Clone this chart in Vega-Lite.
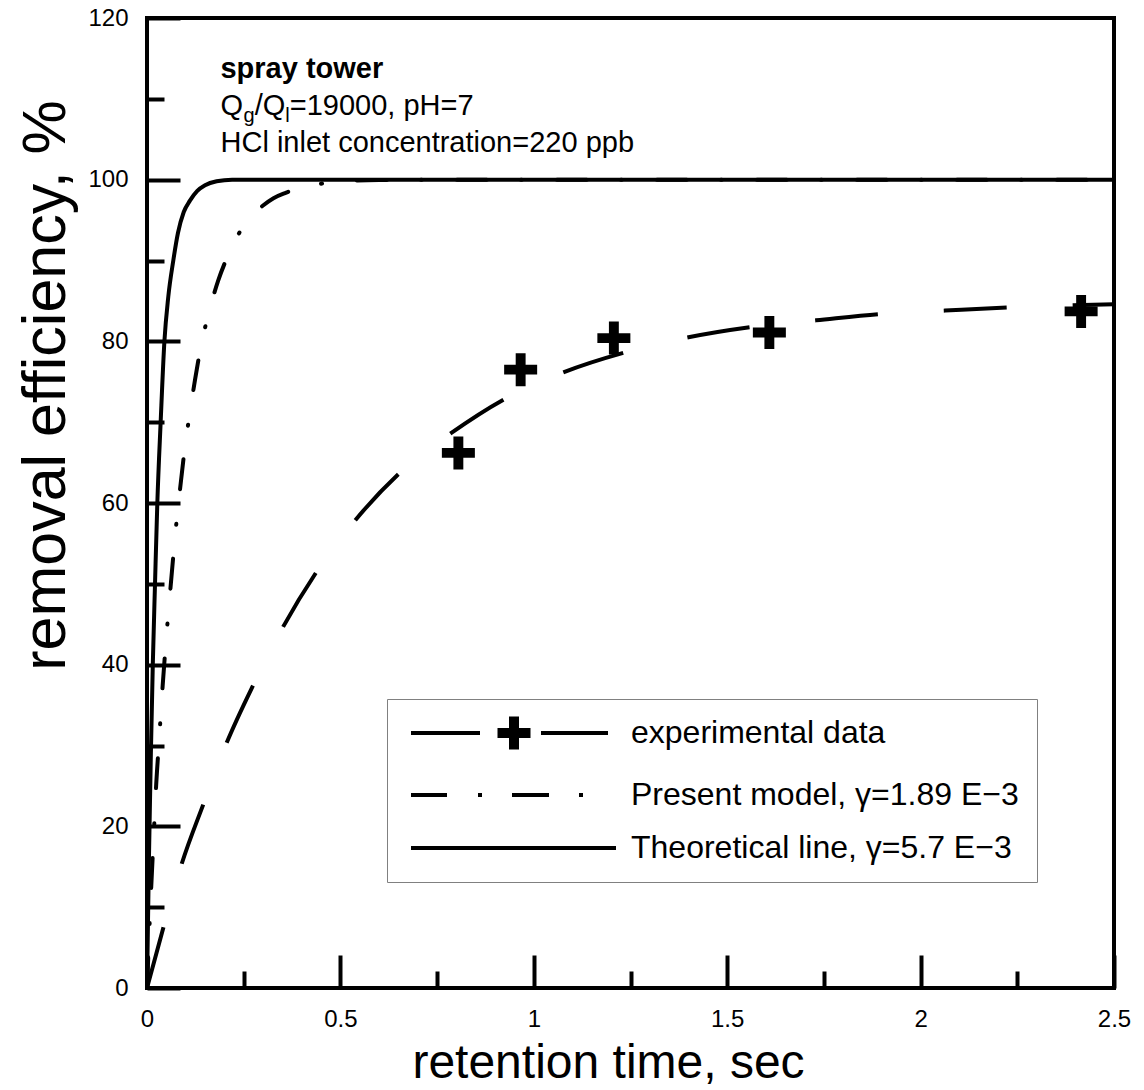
{
  "$schema": "https://vega.github.io/schema/vega-lite/v6.json",
  "width": 967,
  "height": 970,
  "autosize": {"type": "none"},
  "padding": {"left": 147, "top": 18, "right": 30, "bottom": 102},
  "background": "white",
  "config": {
    "font": "Liberation Sans",
    "view": {"stroke": "black", "strokeWidth": 4},
    "axis": {"grid": false, "domain": false, "tickColor": "black", "tickWidth": 4, "labelColor": "black", "titleColor": "black", "labelFont": "Liberation Sans", "titleFont": "Liberation Sans", "titleFontWeight": "normal"}
  },
  "datasets": {
    "experimental_fit": [
      {"t": 0, "eff": 0}, {"t": 0.043, "eff": 7.6}, {"t": 0.09, "eff": 15.4}, {"t": 0.147, "eff": 22.9},
      {"t": 0.204, "eff": 30.1}, {"t": 0.276, "eff": 37.6}, {"t": 0.351, "eff": 44.6}, {"t": 0.44, "eff": 51.6},
      {"t": 0.539, "eff": 57.9}, {"t": 0.655, "eff": 63.8}, {"t": 0.785, "eff": 68.6}, {"t": 0.93, "eff": 73.0},
      {"t": 1.078, "eff": 76.2}, {"t": 1.24, "eff": 78.7}, {"t": 1.4, "eff": 80.5}, {"t": 1.567, "eff": 81.8},
      {"t": 1.73, "eff": 82.6}, {"t": 1.9, "eff": 83.4}, {"t": 2.063, "eff": 83.8}, {"t": 2.234, "eff": 84.2},
      {"t": 2.5, "eff": 84.6}
    ],
    "present_model": [
      {"t": 0, "eff": 0}, {"t": 0.01, "eff": 11.5}, {"t": 0.019, "eff": 20.5}, {"t": 0.023, "eff": 24.5},
      {"t": 0.029, "eff": 29.1}, {"t": 0.035, "eff": 33.4}, {"t": 0.0405, "eff": 37.4}, {"t": 0.0465, "eff": 41.3},
      {"t": 0.055, "eff": 46.3}, {"t": 0.062, "eff": 50.2}, {"t": 0.07, "eff": 54.5}, {"t": 0.078, "eff": 58.5},
      {"t": 0.088, "eff": 62.8}, {"t": 0.098, "eff": 66.9}, {"t": 0.111, "eff": 71.2}, {"t": 0.124, "eff": 75.2},
      {"t": 0.14, "eff": 79.5}, {"t": 0.16, "eff": 83.6}, {"t": 0.184, "eff": 87.5}, {"t": 0.216, "eff": 91.3},
      {"t": 0.26, "eff": 95.0}, {"t": 0.3, "eff": 96.8}, {"t": 0.327, "eff": 97.7}, {"t": 0.36, "eff": 98.4},
      {"t": 0.407, "eff": 99.2}, {"t": 0.45, "eff": 99.5}, {"t": 0.5, "eff": 99.8}, {"t": 0.6, "eff": 99.95},
      {"t": 0.8, "eff": 100}, {"t": 1.5, "eff": 100}, {"t": 2.5, "eff": 100}
    ],
    "theoretical": [
      {"t": 0, "eff": 0}, {"t": 0.005, "eff": 16}, {"t": 0.01, "eff": 29}, {"t": 0.015, "eff": 40},
      {"t": 0.0207, "eff": 50}, {"t": 0.0267, "eff": 60}, {"t": 0.0353, "eff": 70}, {"t": 0.045, "eff": 80},
      {"t": 0.055, "eff": 85.5}, {"t": 0.068, "eff": 90}, {"t": 0.08, "eff": 93.4}, {"t": 0.095, "eff": 96},
      {"t": 0.111, "eff": 97.4}, {"t": 0.13, "eff": 98.6}, {"t": 0.15, "eff": 99.3}, {"t": 0.18, "eff": 99.8},
      {"t": 0.22, "eff": 100}, {"t": 0.3, "eff": 100}, {"t": 2.5, "eff": 100}
    ],
    "measured": [
      {"t": 0.805, "eff": 66.2}, {"t": 0.966, "eff": 76.5}, {"t": 1.207, "eff": 80.4},
      {"t": 1.609, "eff": 81.1}, {"t": 2.415, "eff": 83.7}
    ],
    "legend_entries": [
      {"series": "experimental data"},
      {"series": "Present model, γ=1.89 E−3"},
      {"series": "Theoretical line, γ=5.7 E−3"}
    ]
  },
  "layer": [
    {
      "data": {"name": "experimental_fit"},
      "mark": {"type": "line", "stroke": "black", "strokeWidth": 4, "strokeDash": [63, 66], "interpolate": "monotone"},
      "encoding": {
        "x": {"field": "t", "type": "quantitative", "scale": {"domain": [0, 2.5], "nice": false, "zero": false},
          "axis": {"orient": "bottom", "values": [0, 0.5, 1, 1.5, 2, 2.5], "format": "~g", "ticks": false, "labelPadding": 19, "labelFontSize": 24, "labelFlush": false, "labelOverlap": false,
            "title": "retention time, sec", "titleFontSize": 48, "titleBaseline": "alphabetic", "titleX": 461, "titleY": 89}},
        "y": {"field": "eff", "type": "quantitative", "scale": {"domain": [0, 120], "nice": false, "zero": false},
          "axis": {"orient": "left", "values": [0, 20, 40, 60, 80, 100, 120], "format": "d", "ticks": false, "labelPadding": 19, "labelFontSize": 24, "labelFlush": false, "labelOverlap": false,
            "title": "removal efficiency, %", "titleFontSize": 61, "titleAngle": 270, "titleBaseline": "alphabetic", "titleX": -83, "titleY": 367}}
      }
    },
    {
      "data": {"name": "present_model"},
      "mark": {"type": "line", "stroke": "black", "strokeWidth": 4, "strokeDash": [30, 34, 1, 35], "strokeCap": "round", "interpolate": "monotone"},
      "encoding": {
        "x": {"field": "t", "type": "quantitative", "axis": {"orient": "bottom", "values": [0, 0.5, 1, 1.5, 2, 2.5], "tickSize": -33, "labels": false, "title": null}},
        "y": {"field": "eff", "type": "quantitative", "axis": {"orient": "left", "values": [0, 20, 40, 60, 80, 100, 120], "tickSize": -33, "labels": false, "title": null}}
      }
    },
    {
      "data": {"name": "theoretical"},
      "mark": {"type": "line", "stroke": "black", "strokeWidth": 4, "interpolate": "monotone"},
      "encoding": {
        "x": {"field": "t", "type": "quantitative", "axis": {"orient": "bottom", "values": [0.25, 0.75, 1.25, 1.75, 2.25], "tickSize": -17, "labels": false, "title": null}},
        "y": {"field": "eff", "type": "quantitative", "axis": {"orient": "left", "values": [10, 30, 50, 70, 90, 110], "tickSize": -17, "labels": false, "title": null}}
      }
    },
    {
      "data": {"name": "measured"},
      "mark": {"type": "point", "filled": true, "fill": "black", "strokeWidth": 0, "opacity": 1, "size": 1089,
        "shape": "M-1,-0.3L-0.3,-0.3L-0.3,-1L0.3,-1L0.3,-0.3L1,-0.3L1,0.3L0.3,0.3L0.3,1L-0.3,1L-0.3,0.3L-1,0.3Z"},
      "encoding": {
        "x": {"field": "t", "type": "quantitative", "axis": null},
        "y": {"field": "eff", "type": "quantitative", "axis": null}
      }
    },
    {
      "data": {"name": "legend_entries"},
      "transform": [{"filter": "false"}],
      "mark": {"type": "point", "filled": false, "stroke": "black", "strokeWidth": 4, "opacity": 1, "size": 400},
      "encoding": {
        "shape": {"field": "series", "type": "nominal",
          "scale": {"domain": ["experimental data", "Present model, γ=1.89 E−3", "Theoretical line, γ=5.7 E−3"],
            "range": [
              "M-1,0L5.9,0M12,0L18.7,0M7.65,-0.3L10.95,-0.3M7.65,0L10.95,0M7.65,0.3L10.95,0.3M9.0,-1.65L9.0,1.65M9.3,-1.65L9.3,1.65M9.6,-1.65L9.6,1.65",
              "M-1,0L2.6,0M5.7,0L6.1,0M9.1,0L12.8,0M15.8,0L16.2,0",
              "M-1,0L19.5,0"
            ]},
          "legend": {"title": null, "orient": "none", "legendX": 240, "legendY": 681, "padding": 18,
            "strokeColor": "#808080", "fillColor": "white", "symbolSize": 400, "symbolStrokeWidth": 4,
            "symbolStrokeColor": "black", "symbolFillColor": "transparent", "symbolOpacity": 1,
            "labelFontSize": 32, "labelColor": "black", "labelOffset": 194, "labelLimit": 600, "rowPadding": 21}}
      }
    },
    {
      "data": {"values": [{"t": 0.19, "eff": 112.6, "label": "spray tower"}]},
      "mark": {"type": "text", "align": "left", "baseline": "alphabetic", "fontSize": 29, "fontWeight": "bold", "color": "black"},
      "encoding": {
        "x": {"field": "t", "type": "quantitative", "axis": null},
        "y": {"field": "eff", "type": "quantitative", "axis": null},
        "text": {"field": "label"}
      }
    },
    {
      "data": {"values": [
        {"t": 0.19, "eff": 108.0, "label": "Q"},
        {"t": 0.2784, "eff": 108.0, "label": "/Q"},
        {"t": 0.369, "eff": 108.0, "label": "=19000, pH=7"},
        {"t": 0.19, "eff": 103.45, "label": "HCl inlet concentration=220 ppb"}
      ]},
      "mark": {"type": "text", "align": "left", "baseline": "alphabetic", "fontSize": 29, "color": "black"},
      "encoding": {
        "x": {"field": "t", "type": "quantitative", "axis": null},
        "y": {"field": "eff", "type": "quantitative", "axis": null},
        "text": {"field": "label"}
      }
    },
    {
      "data": {"values": [
        {"t": 0.2497, "eff": 107.1, "label": "g"},
        {"t": 0.3576, "eff": 107.1, "label": "l"}
      ]},
      "mark": {"type": "text", "align": "left", "baseline": "alphabetic", "fontSize": 20, "color": "black"},
      "encoding": {
        "x": {"field": "t", "type": "quantitative", "axis": null},
        "y": {"field": "eff", "type": "quantitative", "axis": null},
        "text": {"field": "label"}
      }
    }
  ],
  "resolve": {"axis": {"x": "independent", "y": "independent"}}
}
